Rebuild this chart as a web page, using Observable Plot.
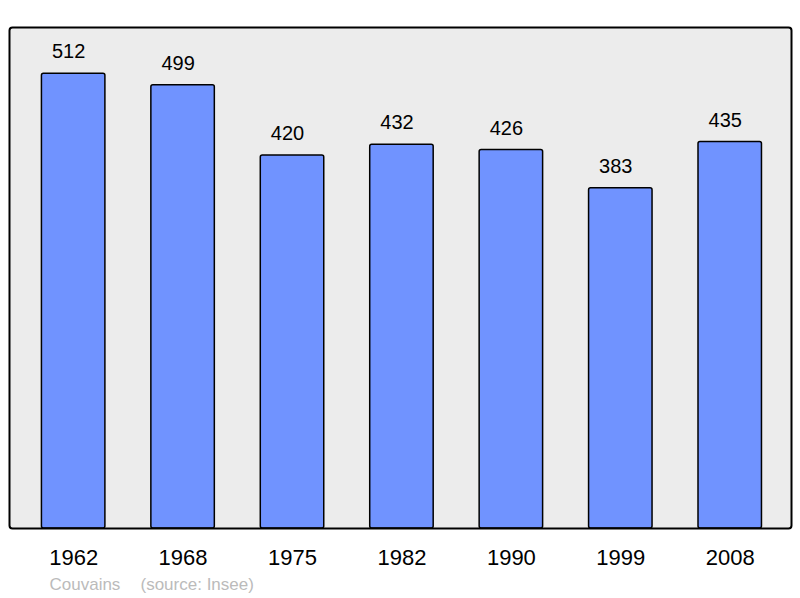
<!DOCTYPE html>
<html>
<head>
<meta charset="utf-8">
<script src="https://cdn.jsdelivr.net/npm/d3@7"></script>
<script src="https://cdn.jsdelivr.net/npm/@observablehq/plot@0.6"></script>
<style>
  html, body { margin: 0; padding: 0; background: #ffffff; }
  #chart svg { display: block; }
</style>
</head>
<body>
<div id="chart"></div>
<script>
const years = ["1962", "1968", "1975", "1982", "1990", "1999", "2008"];
const population = [512, 499, 420, 432, 426, 383, 435];
const commune = "Couvains";
const source = "(source: Insee)";

const data = years.map((y, i) => ({year: y, value: population[i]}));

const chart = Plot.plot({
  width: 800,
  height: 598,
  marginTop: 27,
  marginBottom: 70,
  marginLeft: 9,
  marginRight: 9,
  style: {fontFamily: "'Liberation Sans', Arial, sans-serif", background: "#ffffff", overflow: "visible"},
  x: {type: "band", domain: years, range: [8.6, 794.3], paddingInner: 0.42, paddingOuter: 0.3, round: false, label: null},
  y: {domain: [0, 564], axis: null},
  marks: [
    Plot.frame({fill: "#ececec", stroke: "none"}),
    Plot.barY(data, {x: "year", y: "value", fill: "#7093ff", stroke: "#000000", strokeWidth: 1.5, rx: 2}),
    Plot.frame({stroke: "#000000", strokeWidth: 2, rx: 3}),
    Plot.text(data, {x: "year", y: "value", text: d => String(d.value), dx: -5, dy: -15.5, lineAnchor: "bottom", fontSize: 20, fill: "#000000"}),
    Plot.axisX({tickSize: 0, tickPadding: 21, fontSize: 22, fill: "#000000", label: null}),
    Plot.text([commune], {frameAnchor: "bottom-left", dx: 40, dy: 61, textAnchor: "start", lineAnchor: "bottom", fontSize: 17, fill: "#bbbbbb"}),
    Plot.text([source], {frameAnchor: "bottom-left", dx: 131, dy: 61, textAnchor: "start", lineAnchor: "bottom", fontSize: 17, fill: "#bbbbbb"})
  ]
});
document.getElementById("chart").appendChild(chart);
</script>
</body>
</html>
